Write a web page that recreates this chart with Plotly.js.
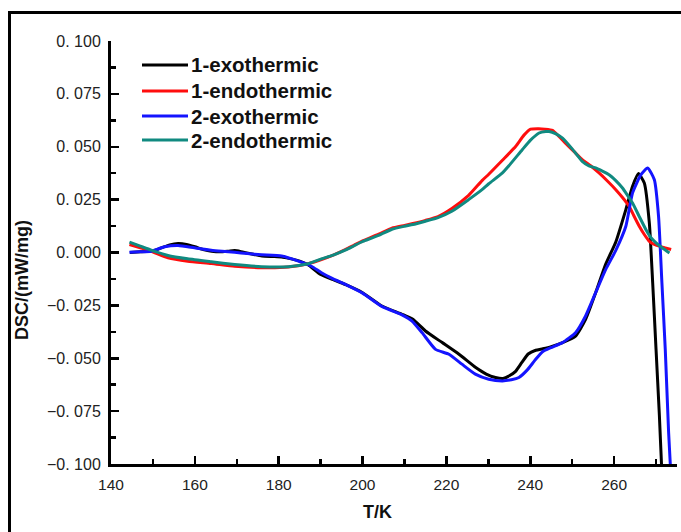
<!DOCTYPE html>
<html>
<head>
<meta charset="utf-8">
<script src="https://cdn.plot.ly/plotly-3.0.1.min.js"></script>
<style>
html,body{margin:0;padding:0;background:#fff;overflow:hidden;}
#wrap{position:relative;width:681px;height:532px;}
#chart{position:absolute;left:0;top:0;width:681px;height:532px;}
#frame{position:absolute;left:8px;top:11px;width:720px;height:600px;border:3px solid #000;pointer-events:none;box-sizing:border-box;}
</style>
</head>
<body>
<div id="wrap"><div id="chart"></div><div id="frame"></div></div>
<script>
// ---- data ----
const seriesNames = ["1-exothermic", "1-endothermic", "2-exothermic", "2-endothermic"];
const seriesColors = ["#000000", "#ff0d0d", "#1414ff", "#108a80"];

const exo1T = [144.5,147,150,152,154,156,158,160,162,164,166,168,169.5,171,173,176,179,181,183,185,187,190,193,196,200,204.6,209.4,212,215,219,223,227,229.5,231.7,233.5,235,236.5,238,239.5,241.3,243,245,247.7,250.8,253.2,255.6,258,260.4,262.8,264.4,265.8,267.2,268.4,269.2,270,270.8,271.3,271.6];
const exo1V = [0.0,0.0003,0.0008,0.0022,0.0036,0.0042,0.0038,0.0027,0.0014,0.0006,0.0003,0.0006,0.0009,0.0004,-0.0005,-0.0017,-0.0019,-0.0022,-0.003,-0.0041,-0.0058,-0.0104,-0.0128,-0.0152,-0.019,-0.0253,-0.0292,-0.0316,-0.0371,-0.0426,-0.0481,-0.0544,-0.0575,-0.0591,-0.0596,-0.0583,-0.0562,-0.052,-0.048,-0.0462,-0.0455,-0.0445,-0.0426,-0.0395,-0.0316,-0.019,-0.0055,0.005,0.0203,0.0313,0.0373,0.0329,0.014,-0.0143,-0.0458,-0.0772,-0.1,-0.11];

const endo1T = [144.4,147,149.6,153.6,158.3,163.9,169.5,175.9,182.3,187,190.2,193,196,198,200,202,204,207,210,212,215,218,221.3,225.3,228.5,230.1,233.3,236.5,238.5,240.1,242,243.5,245.3,246.8,248.4,250.4,252.4,254.4,256.4,258.4,260.4,262,263.6,264.8,266,267.2,268.4,269.6,270.8,272.2,273.6];
const endo1V = [0.0038,0.0022,0.0006,-0.0025,-0.0041,-0.0052,-0.0065,-0.0072,-0.0069,-0.0053,-0.0033,-0.0012,0.0015,0.0035,0.0055,0.0072,0.0088,0.0115,0.0128,0.0137,0.0152,0.017,0.0208,0.027,0.034,0.037,0.0435,0.0501,0.0555,0.0583,0.0585,0.0583,0.0577,0.055,0.0517,0.0478,0.0439,0.041,0.0376,0.0338,0.0297,0.026,0.0218,0.017,0.0124,0.0085,0.0053,0.0038,0.003,0.0022,0.0014];

const exo2T = [144.4,147,149.6,152.8,156,159.9,163.9,166.5,169.5,172.5,175.9,180.7,184.7,187.8,190.2,193,196,200,204.6,209.4,211.8,214.2,217.4,220.6,223.7,226.9,230.1,233.3,235.5,237.3,239.3,241.3,243,244.9,247.7,250.8,253.2,255.6,258,260.4,262.8,264.4,266.4,268,269.6,270.6,271.4,272.2,273,273.4,273.6];
const exo2V = [0.0001,0.0003,0.0006,0.0027,0.0033,0.0022,0.0011,0.0006,0.0001,-0.0005,-0.0011,-0.0017,-0.0041,-0.0065,-0.0096,-0.0125,-0.0152,-0.0192,-0.0255,-0.0295,-0.0324,-0.0379,-0.0458,-0.0481,-0.0528,-0.0575,-0.0599,-0.0607,-0.0602,-0.0591,-0.0555,-0.0505,-0.0468,-0.045,-0.0426,-0.0379,-0.03,-0.019,-0.008,0.001,0.0124,0.0282,0.0368,0.04,0.0344,0.0171,-0.0143,-0.0458,-0.085,-0.1,-0.11];

const endo2T = [144.4,147,149.6,153.6,158.3,163.9,169.5,175.9,182.3,187,190.2,193,196,198,200,202,204,207,210,212,215,218,221.3,225.3,228.5,230.1,233.3,234.9,238.1,240,242.1,243.7,244.5,246,247.7,250,252.4,254,255.6,257.2,258.8,260.4,262,263.2,264.4,266,267.6,268.8,270,271.6,273.2];
const endo2V = [0.0049,0.003,0.0011,-0.0014,-0.003,-0.0044,-0.0057,-0.0067,-0.0067,-0.0053,-0.003,-0.0012,0.0012,0.0032,0.0052,0.0067,0.0082,0.011,0.0124,0.0132,0.0148,0.0165,0.0195,0.025,0.0297,0.0325,0.0375,0.041,0.0486,0.053,0.0565,0.0572,0.0572,0.0562,0.0541,0.049,0.0431,0.041,0.04,0.0385,0.0368,0.034,0.0305,0.027,0.0234,0.017,0.0108,0.007,0.0046,0.002,-0.0002];

const yTickVals = [0.1,0.075,0.05,0.025,0,-0.025,-0.05,-0.075,-0.1];
const yTickText = ["0. 100","0. 075","0. 050","0. 025","0. 000","\u22120. 025","\u22120. 050","\u22120. 075","\u22120. 100"];
const yMinorVals = [0.0875,0.0625,0.0375,0.0125,-0.0125,-0.0375,-0.0625,-0.0875];
const xTickVals = [140,160,180,200,220,240,260];
const xTickText = ["140","160","180","200","220","240","260"];
const xMinorVals = [150,170,190,210,230,250,270];

// ---- build ----
const xs = [exo1T, endo1T, exo2T, endo2T];
const ys = [exo1V, endo1V, exo2V, endo2V];
const traces = [0,1,2,3].map(i => ({
  type: 'scatter', mode: 'lines', x: xs[i], y: ys[i], name: seriesNames[i],
  line: {color: seriesColors[i], width: 3, shape: 'spline', smoothing: 0.5},
  showlegend: false, hoverinfo: 'skip'
}));

const FONT = '"Liberation Sans", Arial, sans-serif';
const W = 681, H = 532;
const M = {l: 111, r: 4, t: 41, b: 68};
const pw = W - M.l - M.r, ph = H - M.t - M.b;
const px2x = p => (p - M.l) / pw;
const py2y = p => (H - M.b - p) / ph;

const legendRows = [65, 91, 116, 140];
const shapes = [];
const annotations = [];
seriesNames.forEach((nm, i) => {
  shapes.push({type: 'line', xref: 'paper', yref: 'paper',
    x0: px2x(142), x1: px2x(188), y0: py2y(legendRows[i]), y1: py2y(legendRows[i]),
    line: {color: seriesColors[i], width: 3}});
  annotations.push({xref: 'paper', yref: 'paper', x: px2x(189), y: py2y(legendRows[i]),
    xanchor: 'left', yanchor: 'middle', showarrow: false, text: nm,
    font: {family: FONT, size: 20.5, color: '#111', weight: 'bold'}});
});
annotations.push({xref: 'paper', yref: 'paper', x: px2x(22), y: py2y(280),
  xanchor: 'center', yanchor: 'middle', showarrow: false, textangle: -90,
  text: 'DSC/(mW/mg)', font: {family: FONT, size: 18, color: '#111', weight: 'bold'}});
annotations.push({xref: 'paper', yref: 'paper', x: px2x(377), y: py2y(512),
  xanchor: 'center', yanchor: 'middle', showarrow: false,
  text: 'T/K', font: {family: FONT, size: 18, color: '#111', weight: 'bold'}});

const layout = {
  width: W, height: H, margin: M, paper_bgcolor: 'rgba(0,0,0,0)', plot_bgcolor: 'rgba(0,0,0,0)',
  showlegend: false,
  font: {family: FONT, color: '#222'},
  xaxis: {range: [140, 275], showgrid: false, zeroline: false, showline: true, linewidth: 3, linecolor: '#000',
    tickmode: 'array', tickvals: xTickVals, ticktext: xTickText, ticks: 'inside', ticklen: 8, tickwidth: 2.5, tickcolor: '#000',
    ticklabelstandoff: 4,
    tickfont: {family: FONT, size: 15.5, color: '#222'},
    minor: {tickmode: 'array', tickvals: xMinorVals, ticks: 'inside', ticklen: 5, tickwidth: 2.5, tickcolor: '#000', showgrid: false}},
  yaxis: {range: [-0.1, 0.1], showgrid: false, zeroline: false, showline: true, linewidth: 3, linecolor: '#000',
    tickmode: 'array', tickvals: yTickVals, ticktext: yTickText, ticks: 'inside', ticklen: 8, tickwidth: 2.5, tickcolor: '#000',
    ticklabelstandoff: 4,
    tickfont: {family: FONT, size: 16, color: '#222'},
    minor: {tickmode: 'array', tickvals: yMinorVals, ticks: 'inside', ticklen: 5, tickwidth: 2.5, tickcolor: '#000', showgrid: false}},
  shapes: shapes, annotations: annotations
};

Plotly.newPlot('chart', traces, layout, {staticPlot: true, displayModeBar: false});
</script>
</body>
</html>
